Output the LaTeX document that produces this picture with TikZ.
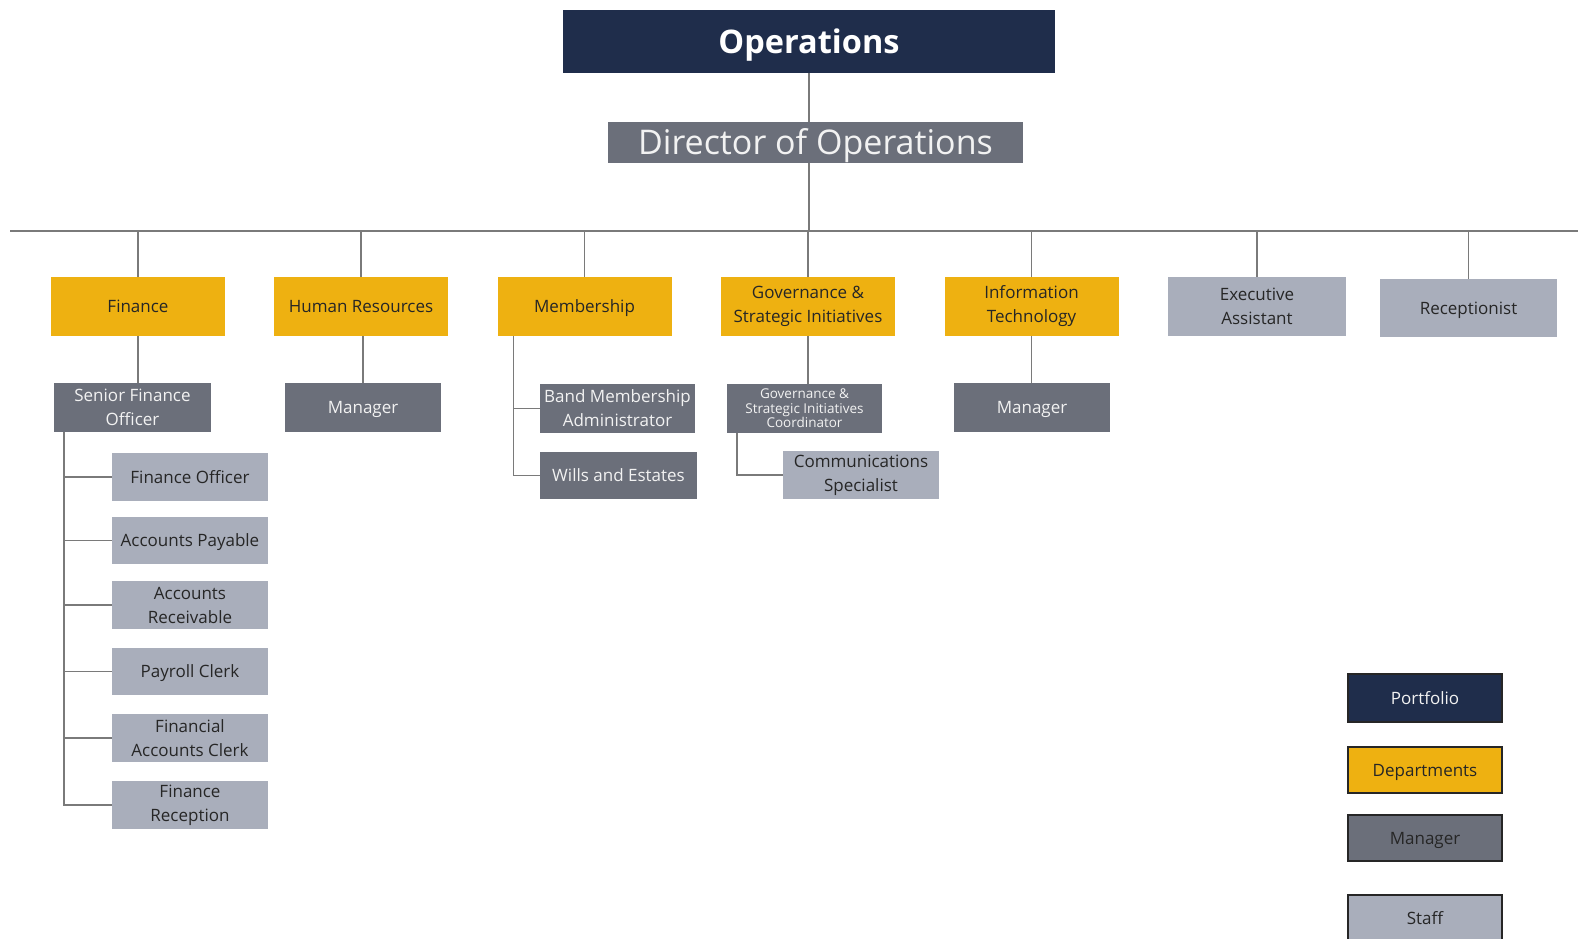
\documentclass[tikz,border=0pt]{standalone}
\usepackage{fontspec}
\setmainfont{Open Sans}
\definecolor{navy}{HTML}{1F2D4B}
\definecolor{gold}{HTML}{EEB111}
\definecolor{mgr}{HTML}{6B6F7A}
\definecolor{stf}{HTML}{A9AEBB}
\definecolor{dtext}{HTML}{262626}
\definecolor{ltext}{HTML}{F2F2F2}
\definecolor{conn}{HTML}{7A7A7A}
\begin{document}
\begin{tikzpicture}[x=1pt,y=-1pt,
  box/.style={rectangle, inner sep=0pt, align=center, font=\fontsize{17}{24}\selectfont},
  one/.style={text height=12.5, text depth=0},
  dept/.style={box, fill=gold, text=dtext, minimum width=174, minimum height=59},
  mgrbox/.style={box, fill=mgr, text=ltext, minimum width=156, minimum height=49},
  staffbox/.style={box, fill=stf, text=dtext, minimum width=156, minimum height=48},
  legbox/.style={box, one, draw=dtext, line width=1.5pt, minimum width=154, minimum height=46},
  link/.style={draw=conn, line width=1.4pt}]
\useasboundingbox (0,0) rectangle (1578,938);
% top
\node[box, fill=navy, text=white, minimum width=492, minimum height=63, text height=23, text depth=0, font=\fontsize{32.5}{36}\selectfont\bfseries] (ops) at (809,41.5) {Operations};
\node[box, fill=mgr, text=ltext, minimum width=415, minimum height=41, text height=24, text depth=0, font=\fontsize{34}{36}\selectfont] (dir) at (815.5,142.5) {Director of Operations};
\coordinate (hleft) at (10,231);
\coordinate (hright) at (1578,231);
% departments
\node[dept, one] (fin) at (138,306.5) {Finance};
\node[dept, one] (hum) at (361,306.5) {Human Resources};
\node[dept, one] (memb) at (584.5,306.5) {Membership};
\node[dept] (gov) at (808,306.5) {Governance \&\\Strategic Initiatives};
\node[dept] (it) at (1031.5,306.5) {Information\\Technology};
\node[staffbox, minimum width=178, minimum height=59] (ea) at (1257,306.5) {Executive\\Assistant};
\node[staffbox, one, minimum width=177, minimum height=58] (rec) at (1468.5,308) {Receptionist};
% managers
\node[mgrbox, minimum width=157] (sfo) at (132.5,407.5) {Senior Finance\\Officer};
\node[mgrbox, one] (hrm) at (363,407.5) {Manager};
\node[mgrbox, minimum width=155] (band) at (617.5,408.5) {Band Membership\\Administrator};
\node[mgrbox, one, minimum width=157, minimum height=47] (wills) at (618.5,475.5) {Wills and Estates};
\node[mgrbox, minimum width=155, font=\fontsize{13.5}{14.5}\selectfont] (gc) at (804.5,408.5) {Governance \&\\Strategic Initiatives\\Coordinator};
\node[staffbox] (comm) at (861,475) {Communications\\Specialist};
\node[mgrbox, one] (itm) at (1032,407.5) {Manager};
% finance staff
\node[staffbox, one] (fo) at (190,477) {Finance Officer};
\node[staffbox, one, minimum height=47] (ap) at (190,540.5) {Accounts Payable};
\node[staffbox] (ar) at (190,605) {Accounts\\Receivable};
\node[staffbox, one, minimum height=47] (pc) at (190,671.5) {Payroll Clerk};
\node[staffbox] (fac) at (190,738) {Financial\\Accounts Clerk};
\node[staffbox] (frc) at (190,805) {Finance\\Reception};
% legend
\node[legbox, fill=navy, text=ltext, line width=2pt, minimum height=48] (lp) at (1425,698) {Portfolio};
\node[legbox, fill=gold, text=dtext] (ld) at (1425,770) {Departments};
\node[legbox, fill=mgr, text=dtext] (lm) at (1425,838) {Manager};
\node[legbox, fill=stf, text=dtext] (ls) at (1425,918) {Staff};
% connectors
\path[link] (ops.south) -- (ops.south |- dir.north);
\path[link] (ops.south |- dir.south) -- (ops.south |- hleft);
\path[link] (hleft) -- (hright);
\foreach \n in {fin,hum,memb,gov,it,ea,rec} {
  \path[link] (\n.north |- hleft) -- (\n.north);
}
\path[link] (fin.south) -- (fin.south |- sfo.north);
\path[link] (hum.south -| hrm.north) -- (hrm.north);
\path[link] (gov.south) -- (gov.south |- gc.north);
\path[link] (it.south) -- (it.south |- itm.north);
% membership
\path[link] ([xshift=16pt]memb.south west) |- (wills.west);
\path[link] ([xshift=16pt]memb.south west |- band.west) -- (band.west);
% governance
\path[link] ([xshift=10pt]gc.south west) |- (comm.west);
% finance staff
\path[link] ([xshift=10pt]sfo.south west) |- (frc.west);
\foreach \n in {fo,ap,ar,pc,fac} {
  \path[link] ([xshift=10pt]sfo.south west |- \n.west) -- (\n.west);
}
\end{tikzpicture}
\end{document}
